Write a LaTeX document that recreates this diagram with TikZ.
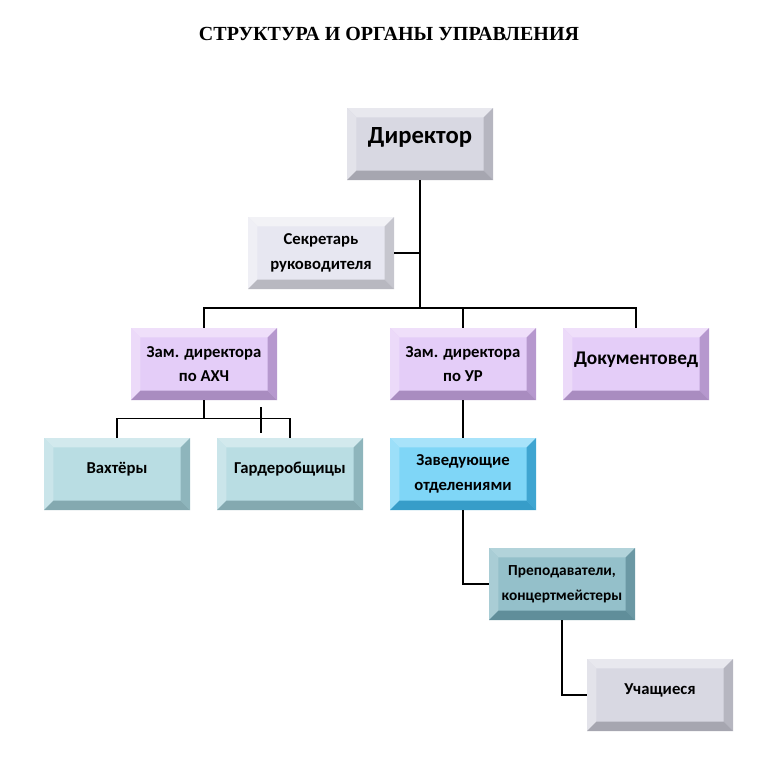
\documentclass[tikz,border=0pt]{standalone}
\usepackage{fontspec}
\setmainfont{Carlito}
\newfontfamily\titlefont{Liberation Serif}
\usetikzlibrary{positioning}

\definecolor{greyface}{HTML}{D8D8E2}
\definecolor{greylight}{HTML}{E8E8EE}
\definecolor{greyside}{HTML}{B6B6C0}
\definecolor{greydark}{HTML}{A6A6B0}
\definecolor{paleface}{HTML}{E7E7F1}
\definecolor{palelight}{HTML}{F2F2F6}
\definecolor{paleside}{HTML}{C6C6CE}
\definecolor{paledark}{HTML}{B8B8C0}
\definecolor{lilacface}{HTML}{E4CDF8}
\definecolor{lilaclight}{HTML}{EFDFFA}
\definecolor{lilacside}{HTML}{B698CE}
\definecolor{lilacdark}{HTML}{A98CC0}
\definecolor{tealface}{HTML}{B9DDE3}
\definecolor{teallight}{HTML}{D2E9ED}
\definecolor{tealside}{HTML}{8EB5BC}
\definecolor{tealdark}{HTML}{84A9B0}
\definecolor{skyface}{HTML}{7FD6F7}
\definecolor{skylight}{HTML}{A8E3FA}
\definecolor{skyside}{HTML}{3FA5D1}
\definecolor{skydark}{HTML}{379DC9}
\definecolor{steelface}{HTML}{94C0CA}
\definecolor{steellight}{HTML}{B2D3DA}
\definecolor{steelside}{HTML}{6B98A4}
\definecolor{steeldark}{HTML}{608E9A}

\newcommand{\bvl}{7pt}

\tikzset{
  bevel/.style n args={5}{fill=#1, minimum width=109.5pt, minimum height=54pt,
    align=center, inner sep=0pt, font=\bfseries\fontsize{12.5}{18.5}\selectfont,
    path picture={
      \coordinate (bnw) at (path picture bounding box.north west);
      \coordinate (bne) at (path picture bounding box.north east);
      \coordinate (bsw) at (path picture bounding box.south west);
      \coordinate (bse) at (path picture bounding box.south east);
      % top and left
      \fill[#2] (bnw) -- (bne) -- ([xshift=-\bvl,yshift=-\bvl]bne) -- ([xshift=\bvl,yshift=-\bvl]bnw) -- cycle;
      \fill[#3] (bnw) -- (bsw) -- ([xshift=\bvl,yshift=\bvl]bsw) -- ([xshift=\bvl,yshift=-\bvl]bnw) -- cycle;
      % right and bottom
      \fill[#4] (bne) -- (bse) -- ([xshift=-\bvl,yshift=\bvl]bse) -- ([xshift=-\bvl,yshift=-\bvl]bne) -- cycle;
      \fill[#5] (bsw) -- (bse) -- ([xshift=-\bvl,yshift=\bvl]bse) -- ([xshift=\bvl,yshift=\bvl]bsw) -- cycle;
    }},
  greybox/.style={bevel={greyface}{greylight}{greylight!70!greyface}{greyside}{greydark}},
  palebox/.style={bevel={paleface}{palelight}{palelight!70!paleface}{paleside}{paledark}},
  lilacbox/.style={bevel={lilacface}{lilaclight}{lilaclight!70!lilacface}{lilacside}{lilacdark}},
  tealbox/.style={bevel={tealface}{teallight}{teallight!70!tealface}{tealside}{tealdark}},
  skybox/.style={bevel={skyface}{skylight}{skylight!70!skyface}{skyside}{skydark}},
  steelbox/.style={bevel={steelface}{steellight}{steellight!70!steelface}{steelside}{steeldark}},
  oneline/.style={text depth=9pt},
  link/.style={draw=black, line width=0.9pt}
}

\begin{document}
\begin{tikzpicture}[x=0.75pt,y=-0.75pt]
  \useasboundingbox (0,0) rectangle (772,778);

  \node (title) at (389,34) {\titlefont\bfseries\fontsize{15}{17}\selectfont СТРУКТУРА И ОРГАНЫ УПРАВЛЕНИЯ};

  % boxes
  \node[greybox, font=\bfseries\fontsize{18.5}{21}\selectfont, text depth=12pt] (dir) at (420,144) {Директор};
  \node[palebox] (sec) at (321,253) {Секретарь\\руководителя};
  \node[lilacbox] (ahch) at (204,364) {Зам. директора\\по АХЧ};
  \node[lilacbox] (ur) at (463,364) {Зам. директора\\по УР};
  \node[lilacbox, oneline, font=\bfseries\fontsize{14.5}{17}\selectfont] (doc) at (636,364) {Документовед};
  \node[tealbox, oneline] (vakh) at (117,474) {Вахтёры};
  \node[tealbox, oneline] (gard) at (290,474) {Гардеробщицы};
  \node[skybox] (zav) at (463,474) {Заведующие\\отделениями};
  \node[steelbox, font=\bfseries\fontsize{11.5}{18.5}\selectfont] (prep) at (562,584) {Преподаватели,\\концертмейстеры};
  \node[greybox, oneline] (uch) at (660,695) {Учащиеся};

  % connectors
  \coordinate (top bus) at (420,308);
  \draw[link] (dir.south) -- (top bus);
  \draw[link] (sec.east) -- (sec.east -| dir.south);
  \draw[link] (ahch.north) |- (top bus) -| (doc.north);
  \draw[link] (ur.north) -- (ur.north |- top bus);
  \draw[link] (ur.south) -- (zav.north);

  \path (ahch.south) ++(0,18) coordinate (low bus);
  \draw[link] (ahch.south) -- (low bus);
  \draw[link] (vakh.north) |- (low bus) -| (gard.north);
  \coordinate (stub) at (261,407);
  \draw[link] (stub) -- ++(0,26);

  \draw[link] (zav.south) |- (prep.west);
  \draw[link] (prep.south) |- (uch.west);
\end{tikzpicture}
\end{document}
